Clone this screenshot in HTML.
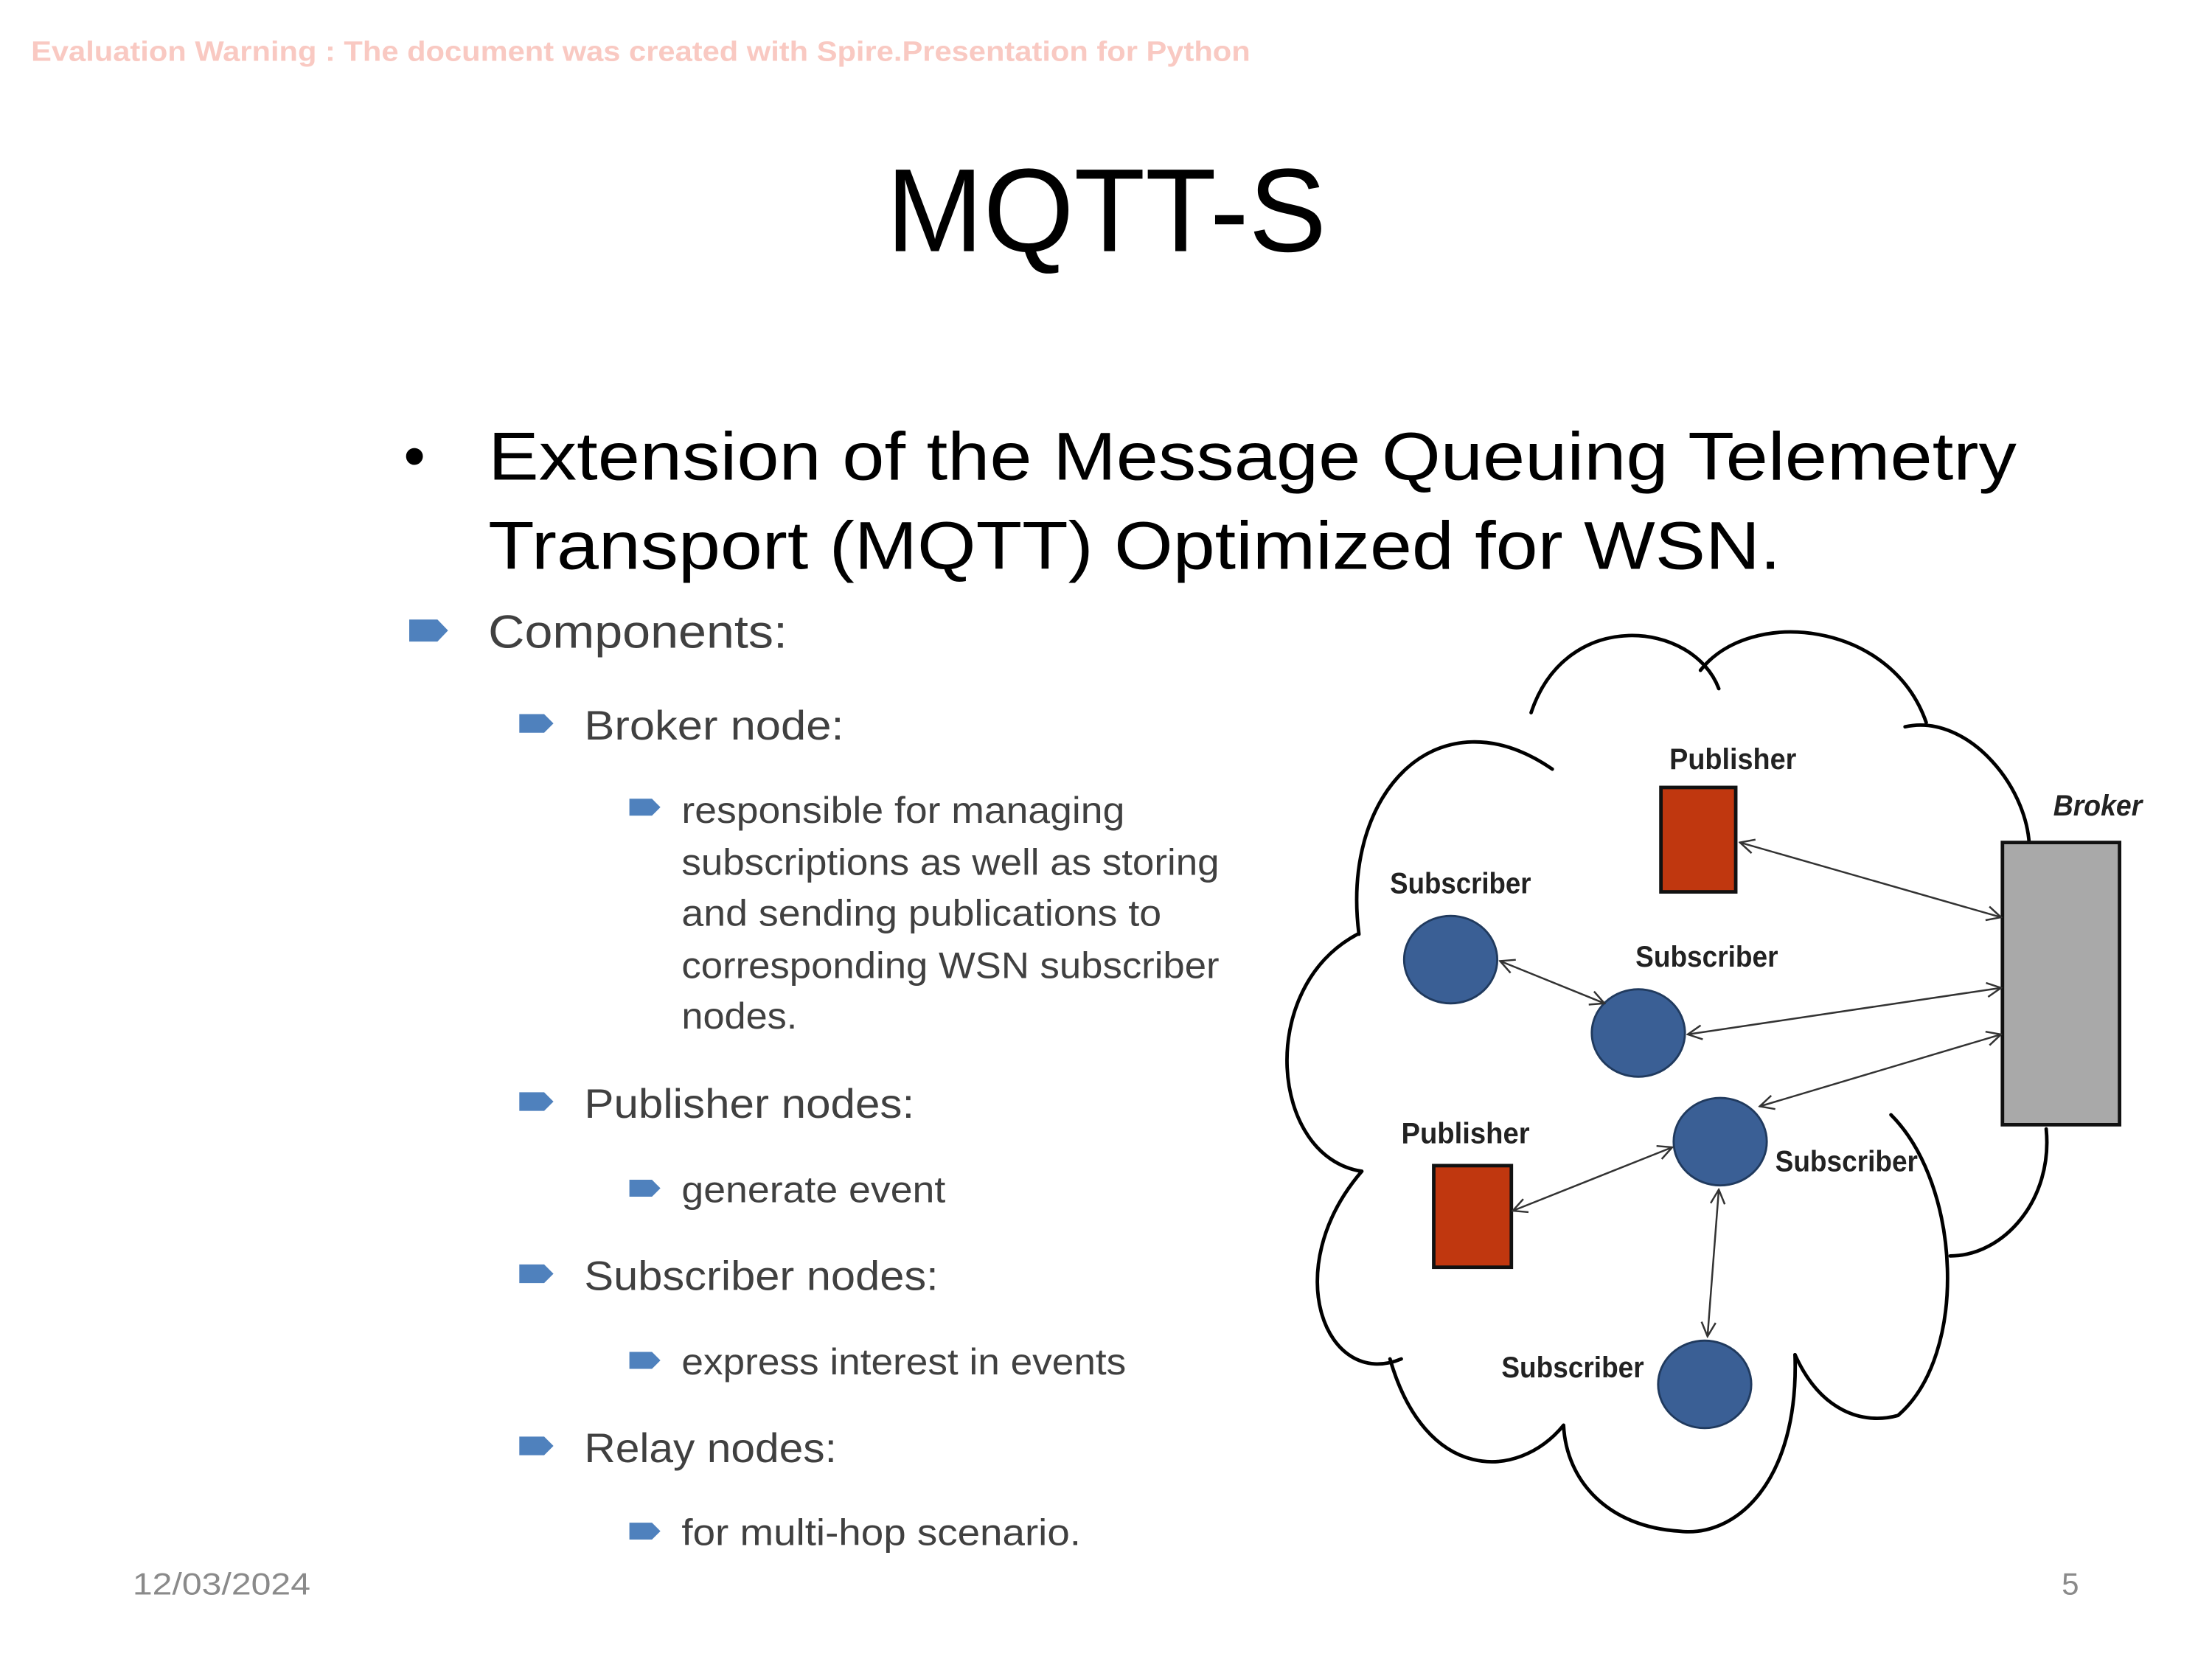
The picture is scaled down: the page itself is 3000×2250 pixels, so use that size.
<!DOCTYPE html>
<html><head><meta charset="utf-8"><style>
html,body{margin:0;padding:0;background:#fff;}
svg{display:block;}
</style></head><body>
<svg width="3000" height="2250" viewBox="0 0 1567.5 1175.6" xmlns="http://www.w3.org/2000/svg" font-family="Liberation Sans, sans-serif">
<defs>
<marker id="ah" viewBox="0 0 12 12" refX="11" refY="6" markerWidth="12" markerHeight="12" orient="auto-start-reverse" markerUnits="userSpaceOnUse">
<path d="M1,1 L11,6 L1,11" fill="none" stroke="#333" stroke-width="1.3"/>
</marker>
<g id="bl"><path d="M0,0 H16 L22,6 L16,12 H0 Z" fill="#4f81bd"/></g>
</defs>
<text x="22" y="43" font-size="20" font-weight="bold" fill="#f9c9c2" textLength="864" lengthAdjust="spacingAndGlyphs">Evaluation Warning : The document was created with Spire.Presentation for Python</text>
<text x="784" y="178" font-size="84" text-anchor="middle" fill="#000" textLength="312" lengthAdjust="spacingAndGlyphs">MQTT-S</text>
<text x="286" y="338" font-size="44" fill="#000">•</text>
<text x="346" y="340" font-size="48" fill="#000" textLength="1083" lengthAdjust="spacingAndGlyphs">Extension of the Message Queuing Telemetry</text>
<text x="346" y="403" font-size="48" fill="#000" textLength="916" lengthAdjust="spacingAndGlyphs">Transport (MQTT) Optimized for WSN.</text>

<g fill="#404040">
<use href="#bl" transform="translate(290,439) scale(1.25,1.3)"/>
<text x="346" y="459" font-size="33" textLength="212" lengthAdjust="spacingAndGlyphs">Components:</text>
<use href="#bl" transform="translate(368,506) scale(1.1)"/>
<text x="414" y="524" font-size="29" textLength="184" lengthAdjust="spacingAndGlyphs">Broker node:</text>
<use href="#bl" transform="translate(446,566) scale(1)"/>
<text x="483" y="583" font-size="26" textLength="314" lengthAdjust="spacingAndGlyphs">responsible for managing</text>
<text x="483" y="620" font-size="26" textLength="381" lengthAdjust="spacingAndGlyphs">subscriptions as well as storing</text>
<text x="483" y="656" font-size="26" textLength="340" lengthAdjust="spacingAndGlyphs">and sending publications to</text>
<text x="483" y="693" font-size="26" textLength="381" lengthAdjust="spacingAndGlyphs">corresponding WSN subscriber</text>
<text x="483" y="729" font-size="26" textLength="82" lengthAdjust="spacingAndGlyphs">nodes.</text>
<use href="#bl" transform="translate(368,774) scale(1.1)"/>
<text x="414" y="792" font-size="29" textLength="234" lengthAdjust="spacingAndGlyphs">Publisher nodes:</text>
<use href="#bl" transform="translate(446,836)"/>
<text x="483" y="852" font-size="26" textLength="187" lengthAdjust="spacingAndGlyphs">generate event</text>
<use href="#bl" transform="translate(368,896) scale(1.1)"/>
<text x="414" y="914" font-size="29" textLength="251" lengthAdjust="spacingAndGlyphs">Subscriber nodes:</text>
<use href="#bl" transform="translate(446,958)"/>
<text x="483" y="974" font-size="26" textLength="315" lengthAdjust="spacingAndGlyphs">express interest in events</text>
<use href="#bl" transform="translate(368,1018) scale(1.1)"/>
<text x="414" y="1036" font-size="29" textLength="179" lengthAdjust="spacingAndGlyphs">Relay nodes:</text>
<use href="#bl" transform="translate(446,1079)"/>
<text x="483" y="1095" font-size="26" textLength="283" lengthAdjust="spacingAndGlyphs">for multi-hop scenario.</text>
</g>
<text x="94" y="1130" font-size="22" fill="#8a8a8a" textLength="126" lengthAdjust="spacingAndGlyphs">12/03/2024</text>
<text x="1461" y="1130" font-size="22" fill="#8a8a8a">5</text>

<!-- cloud -->
<g fill="none" stroke="#000" stroke-width="2.5" stroke-linecap="round">
<path d="M963,662 C950,560 1020,490 1100,545"/>
<path d="M1085,505 C1110,430 1200,440 1218,488"/>
<path d="M1205,475 C1240,430 1340,440 1365,512"/>
<path d="M1350,515 C1395,505 1440,560 1438,605"/>
<path d="M1450,800 C1455,850 1420,890 1382,890"/>
<path d="M1340,790 C1390,840 1395,960 1345,1003 C1320,1010 1290,1000 1272,960"/>
<path d="M1272,960 C1275,1050 1230,1090 1190,1085 C1140,1082 1110,1050 1108,1010"/>
<path d="M1108,1010 C1075,1050 1010,1050 985,963"/>
<path d="M993,963 C940,985 905,900 965,830"/>
<path d="M965,830 C900,820 890,700 962,662"/>
</g>

<!-- nodes -->
<rect x="1177" y="558" width="53" height="74" fill="#c0370f" stroke="#111" stroke-width="2.5"/>
<rect x="1016" y="826" width="55" height="72" fill="#c0370f" stroke="#111" stroke-width="2.5"/>
<rect x="1419" y="597" width="83" height="200" fill="#a9a9a9" stroke="#111" stroke-width="2.5"/>
<g fill="#3a5f95" stroke="#203a5e" stroke-width="1.5">
<ellipse cx="1028" cy="680" rx="33" ry="31"/>
<ellipse cx="1161" cy="732" rx="33" ry="31"/>
<ellipse cx="1219" cy="809" rx="33" ry="31"/>
<ellipse cx="1208" cy="981" rx="33" ry="31"/>
</g>

<!-- arrows -->
<g stroke="#333" stroke-width="1.3" fill="none" marker-start="url(#ah)" marker-end="url(#ah)">
<line x1="1233" y1="597" x2="1418" y2="650"/>
<line x1="1196" y1="733" x2="1418" y2="700"/>
<line x1="1247" y1="784" x2="1418" y2="733"/>
<line x1="1063" y1="681" x2="1137" y2="711"/>
<line x1="1072" y1="858" x2="1185" y2="813"/>
<line x1="1218" y1="843" x2="1210" y2="947"/>
</g>

<g font-size="21" font-weight="bold" fill="#222">
<text x="1183" y="545" textLength="90" lengthAdjust="spacingAndGlyphs">Publisher</text>
<text x="1455" y="578" font-style="italic" textLength="63" lengthAdjust="spacingAndGlyphs">Broker</text>
<text x="985" y="633" textLength="100" lengthAdjust="spacingAndGlyphs">Subscriber</text>
<text x="1159" y="685" textLength="101" lengthAdjust="spacingAndGlyphs">Subscriber</text>
<text x="993" y="810" textLength="91" lengthAdjust="spacingAndGlyphs">Publisher</text>
<text x="1258" y="830" textLength="101" lengthAdjust="spacingAndGlyphs">Subscriber</text>
<text x="1064" y="976" textLength="101" lengthAdjust="spacingAndGlyphs">Subscriber</text>
</g>
</svg>
</body></html>
